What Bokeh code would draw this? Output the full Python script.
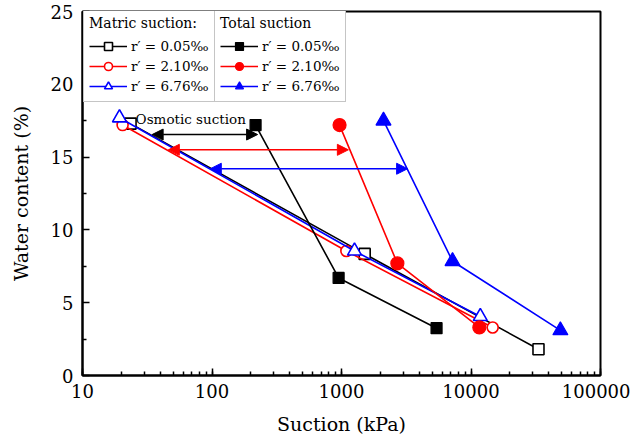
from bokeh.plotting import figure
from bokeh.models import (Legend, LegendItem, Arrow, NormalHead, Label, Range1d,
                          FixedTicker, NumeralTickFormatter)
from bokeh.embed import file_html
from bokeh.resources import INLINE

# ---------------- data ----------------
labels = ["r\u2032 = 0.05\u2030", "r\u2032 = 2.10\u2030", "r\u2032 = 6.76\u2030"]
colors = ["black", "red", "blue"]

# Matric suction (open markers)
matric_x = [
    [23.5, 1510, 33200],
    [20.4, 1090, 14700],
    [19.3, 1260, 11800],
]
matric_y = [
    [17.3, 8.35, 1.8],
    [17.2, 8.55, 3.3],
    [17.7, 8.55, 4.05],
]

# Total suction (filled markers)
total_x = [
    [217, 950, 5420],
    [966, 2700, 11600],
    [2110, 7200, 49000],
]
total_y = [
    [17.2, 6.7, 3.25],
    [17.2, 7.7, 3.3],
    [17.5, 7.85, 3.1],
]

markers = ["square", "circle", "triangle"]

# Osmotic suction arrows
arrow_y = [16.55, 15.5, 14.2]
arrow_x_start = [34.5, 46, 97]
arrow_x_end = [225, 1130, 3240]

y_ticks = [0, 5, 10, 15, 20, 25]
y_minor = [2.5, 7.5, 12.5, 17.5, 22.5]

FONT = "DejaVu Serif"

p = figure(width=630, height=440, x_axis_type="log",
           x_range=Range1d(10, 100000), y_range=Range1d(0, 25),
           output_backend="svg", toolbar_location=None,
           min_border_left=82, min_border_right=30,
           min_border_top=11, min_border_bottom=65)
p.grid.visible = False
p.outline_line_color = "black"
p.outline_line_width = 2
p.background_fill_color = "white"
p.border_fill_color = "white"

for ax in (p.xaxis[0], p.yaxis[0]):
    ax.axis_line_width = 2
    ax.axis_line_color = "black"
    ax.major_tick_in = 7
    ax.major_tick_out = 0
    ax.minor_tick_in = 4
    ax.minor_tick_out = 0
    ax.major_tick_line_width = 1.5
    ax.minor_tick_line_width = 1.5
    ax.major_label_text_font = FONT
    ax.major_label_text_font_size = "18px"
    ax.major_label_text_color = "black"
    ax.axis_label_text_font = FONT
    ax.axis_label_text_font_size = "19px"
    ax.axis_label_text_font_style = "normal"
    ax.axis_label_text_color = "black"

p.xaxis.formatter = NumeralTickFormatter(format="0")
p.xaxis.axis_label = "Suction (kPa)"
p.xaxis.major_label_standoff = 8
p.xaxis.axis_label_standoff = 12
p.yaxis.ticker = FixedTicker(ticks=y_ticks, minor_ticks=y_minor)
p.yaxis.axis_label = "Water content (%)"
p.yaxis.major_label_standoff = 9
p.yaxis.axis_label_standoff = 16

matric_items = []
total_items = []
for i in range(3):
    c = colors[i]
    m = markers[i]
    size_open = 11 if m != "triangle" else 14
    l1 = p.line(matric_x[i], matric_y[i], line_color=c, line_width=1.6)
    s1 = p.scatter(matric_x[i], matric_y[i], marker=m, size=size_open,
                   line_color=c, fill_color="white", line_width=1.6)
    matric_items.append(LegendItem(label=labels[i], renderers=[l1, s1]))

for i in range(3):
    c = colors[i]
    m = markers[i]
    size_fill = 11 if m == "square" else (13 if m == "circle" else 15)
    l2 = p.line(total_x[i], total_y[i], line_color=c, line_width=1.6)
    s2 = p.scatter(total_x[i], total_y[i], marker=m, size=size_fill,
                   line_color=c, fill_color=c, line_width=1.2)
    total_items.append(LegendItem(label=labels[i], renderers=[l2, s2]))

for i in range(3):
    c = colors[i]
    p.add_layout(Arrow(
        x_start=arrow_x_start[i], y_start=arrow_y[i],
        x_end=arrow_x_end[i], y_end=arrow_y[i],
        line_color=c, line_width=1.5,
        start=NormalHead(size=11, fill_color=c, line_color=c, line_width=1),
        end=NormalHead(size=11, fill_color=c, line_color=c, line_width=1)))

p.add_layout(Label(x=25.7, y=17.65, text="Osmotic suction",
                   text_font=FONT, text_font_size="13.5px",
                   text_baseline="middle", text_color="black"))


def make_legend(items, title, loc):
    lg = Legend(items=items, title=title, location=loc)
    lg.title_text_font = FONT
    lg.title_text_font_size = "14px"
    lg.title_text_font_style = "normal"
    lg.title_text_color = "black"
    lg.title_standoff = 5
    lg.label_text_font = FONT
    lg.label_text_font_size = "13.5px"
    lg.label_text_color = "black"
    lg.glyph_width = 38
    lg.glyph_height = 20
    lg.label_height = 20
    lg.label_standoff = 4
    lg.spacing = 0
    lg.padding = 5
    lg.margin = 0
    lg.border_line_color = "#8c8c8c"
    lg.border_line_width = 1.5
    lg.background_fill_color = "white"
    lg.background_fill_alpha = 1
    return lg

p.add_layout(make_legend(matric_items, "Matric suction:", (1, 273)))
p.add_layout(make_legend(total_items, "Total suction", (132, 273)))

open("out.html", "w").write(file_html(p, INLINE))
